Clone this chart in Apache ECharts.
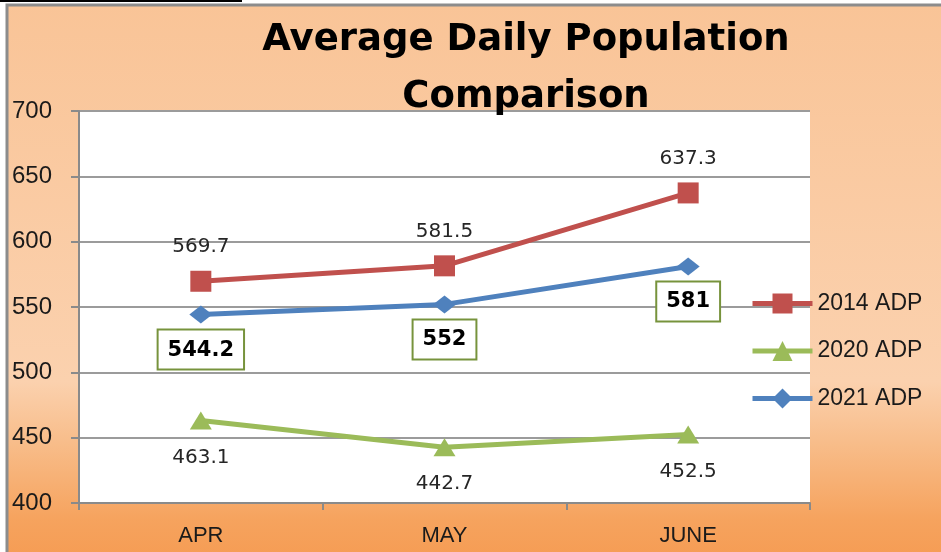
<!DOCTYPE html>
<html>
<head>
<meta charset="utf-8">
<title>Average Daily Population Comparison</title>
<script src="https://cdn.jsdelivr.net/npm/echarts@6/dist/echarts.min.js"></script>
<style>
  body { margin: 0; background: #fff; }
  #chart { width: 941px; height: 552px; }
</style>
</head>
<body>
<div id="chart"></div>
<script>
// values
var months = ['APR', 'MAY', 'JUNE']
var adp2014 = [569.7, 581.5, 637.3]
var adp2020 = [463.1, 442.7, 452.5]
var adp2021 = [544.2, 552, 581]
var yTicks = { min: 400, max: 700, step: 50 }

var myChart = echarts.init(document.getElementById('chart'))

var plainLabel = {
  show: true,
  fontFamily: 'DejaVu Sans',
  fontSize: 20,
  color: '#262626'
}

myChart.setOption({
  backgroundColor: '#fff',
  animation: false,
  color: ['#C0504D', '#9BBB59', '#4F81BD'],
  graphic: [
    // black rule at the very top
    { type: 'rect', z: -10, shape: { x: 0, y: 0, width: 242, height: 2 }, style: { fill: '#000' } },
    // orange chart box
    {
      type: 'rect',
      z: -10,
      shape: { x: 7, y: 5, width: 960, height: 570 },
      style: {
        stroke: '#8c8c8c',
        lineWidth: 3,
        fill: {
          type: 'linear', x: 0, y: 0, x2: 0, y2: 1,
          colorStops: [
            { offset: 0, color: '#F9C497' },
            { offset: 0.66, color: '#FBD1AE' },
            { offset: 0.76, color: '#F8BE8C' },
            { offset: 0.9, color: '#F6A35E' },
            { offset: 1, color: '#F5994F' }
          ]
        }
      }
    },
    {
      type: 'text', z: 100, x: 526, y: 40,
      style: { text: 'Average Daily Population', fontFamily: 'DejaVu Sans', fontWeight: 'bold', fontSize: 37, fill: '#000', align: 'center', verticalAlign: 'middle' }
    },
    {
      type: 'text', z: 100, x: 526, y: 97,
      style: { text: 'Comparison', fontFamily: 'DejaVu Sans', fontWeight: 'bold', fontSize: 37, fill: '#000', align: 'center', verticalAlign: 'middle' }
    }
  ],
  legend: {
    orient: 'vertical',
    left: 750,
    top: 292,
    padding: 0,
    itemWidth: 60,
    itemHeight: 25,
    itemGap: 24.5,
    lineStyle: { width: 5 },
    textStyle: { fontFamily: 'Liberation Sans', fontSize: 23, color: '#1a1a1a' },
    data: ['2014 ADP', '2020 ADP', '2021 ADP']
  },
  grid: {
    left: 79,
    right: 131,
    top: 111,
    bottom: 49,
    show: true,
    backgroundColor: '#fff',
    borderWidth: 0
  },
  xAxis: {
    type: 'category',
    data: months,
    axisLine: { lineStyle: { color: '#8a8a8a', width: 2 } },
    axisTick: { show: true, length: 7, lineStyle: { color: '#8a8a8a', width: 2 } },
    axisLabel: { margin: 22, fontFamily: 'Liberation Sans', fontSize: 22, color: '#1a1a1a' }
  },
  yAxis: {
    type: 'value',
    min: yTicks.min,
    max: yTicks.max,
    interval: yTicks.step,
    axisLine: { show: true, lineStyle: { color: '#8a8a8a', width: 2 } },
    axisTick: { show: true, length: 8, lineStyle: { color: '#8a8a8a', width: 2 } },
    axisLabel: { margin: 27, fontFamily: 'Liberation Sans', fontSize: 24, color: '#1a1a1a' },
    splitLine: { lineStyle: { color: '#9b9b9b', width: 2 } }
  },
  series: [
    {
      name: '2014 ADP',
      type: 'line',
      data: adp2014,
      symbol: 'rect',
      symbolSize: 21,
      lineStyle: { width: 5 },
      label: Object.assign({ position: 'top', distance: 14 }, plainLabel)
    },
    {
      name: '2020 ADP',
      type: 'line',
      data: adp2020,
      symbol: 'triangle',
      symbolSize: [22, 18],
      lineStyle: { width: 5 },
      label: Object.assign({ position: 'bottom', distance: 18 }, plainLabel)
    },
    {
      name: '2021 ADP',
      type: 'line',
      data: adp2021,
      symbol: 'diamond',
      symbolSize: [23, 18],
      lineStyle: { width: 5 },
      label: {
        show: true,
        position: 'bottom',
        distance: 7,
        fontFamily: 'DejaVu Sans',
        fontWeight: 'bold',
        fontSize: 21,
        color: '#000',
        backgroundColor: '#fff',
        borderColor: '#77933C',
        borderWidth: 2,
        padding: [9, 9, 8, 9]
      }
    }
  ]
})
</script>
</body>
</html>
